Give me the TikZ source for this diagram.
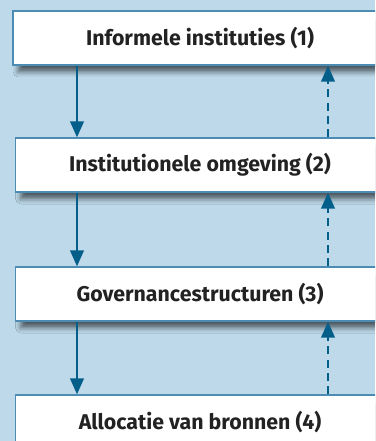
\documentclass[tikz,border=0pt]{standalone}
\usepackage{fontspec}
\setmainfont{Fira Sans}
\usepackage{xcolor}
\usepackage{tikz}
\usetikzlibrary{arrows.meta,shadows.blur}
\definecolor{panel}{RGB}{189,217,234}
\definecolor{arrowblue}{RGB}{4,94,138}
\definecolor{edgeblue}{RGB}{76,139,178}
\definecolor{textgray}{RGB}{34,34,34}

\begin{document}
\begin{tikzpicture}[x=0.75pt,y=-0.75pt,%
% common options for the boxes:
block/.style = {draw=edgeblue, line width=0.8pt, fill=white, align=center,
            minimum height=40.5pt, inner sep=0, text=textgray,
            font=\bfseries\fontsize{16}{18}\selectfont,
            blur shadow={shadow xshift=4pt, shadow yshift=-5pt,
              shadow blur radius=4pt, shadow opacity=60}},
% common options for the arrows:
down/.style = {draw=arrowblue, line width=2pt, -{Triangle[length=12pt,width=10pt]}},
up/.style = {down, dash pattern=on 6pt off 4pt}]
\useasboundingbox[fill=panel] (0,0) rectangle (375,441);
\clip (0,0) rectangle (375,441);
\node[block, minimum width=280.5pt] (box1) at (200,38) {Informele instituties (1)};
\node[block, minimum width=276.75pt] (box2) at (200,165) {Institutionele omgeving (2)};
\node[block, minimum width=276.75pt] (box3) at (200,294) {Governancestructuren (3)};
\node[block, minimum width=276.75pt] (box4) at (200,422) {Allocatie van bronnen (4)};
\coordinate (dl) at (77,0);
\coordinate (ul) at (328,0);
\draw[down] (box1.south -| dl) -- (box2.north -| dl);
\draw[down] (box2.south -| dl) -- (box3.north -| dl);
\draw[down] (box3.south -| dl) -- (box4.north -| dl);
\draw[up] (box2.north -| ul) -- (box1.south -| ul);
\draw[up] (box3.north -| ul) -- (box2.south -| ul);
\draw[up] (box4.north -| ul) -- (box3.south -| ul);
\end{tikzpicture}
\end{document}
